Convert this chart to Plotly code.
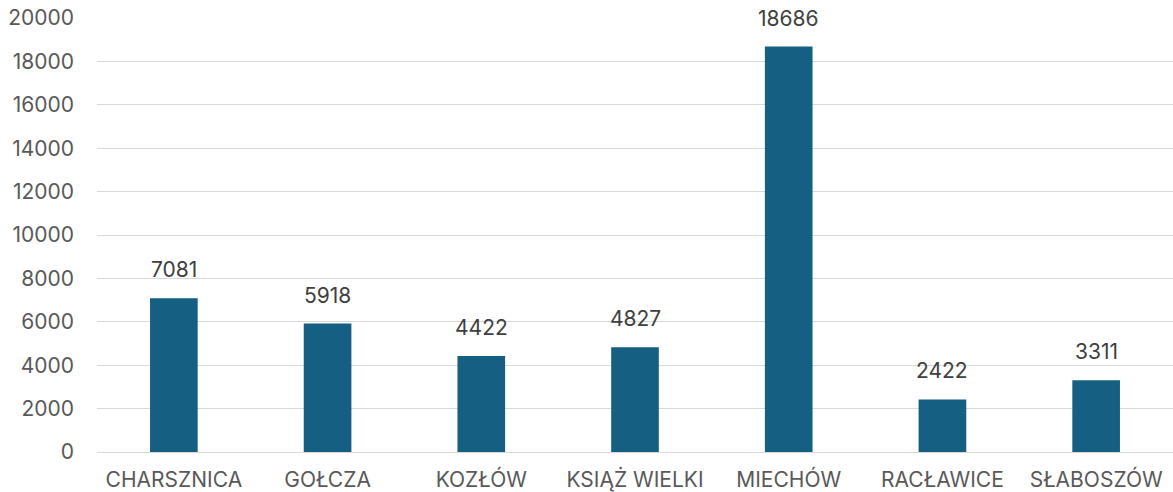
import plotly.graph_objects as go

categories = ["CHARSZNICA", "GOŁCZA", "KOZŁÓW", "KSIĄŻ WIELKI", "MIECHÓW", "RACŁAWICE", "SŁABOSZÓW"]
values = [7081, 5918, 4422, 4827, 18686, 2422, 3311]
y_ticks = [0, 2000, 4000, 6000, 8000, 10000, 12000, 14000, 16000, 18000, 20000]

font_family = "Inter, Liberation Sans, Arial, sans-serif"
text_color = "#595959"

fig = go.Figure(go.Bar(x=categories, y=values, marker=dict(color="#156082", line=dict(width=0)), width=0.31))

for c, v in zip(categories, values):
    fig.add_annotation(x=c, y=v, text=str(v), showarrow=False, yanchor="bottom", yshift=14,
                       font=dict(size=21, color="#404040", family=font_family))

fig.update_layout(
    width=1173, height=492,
    margin=dict(l=97, r=0, t=18, b=40),
    paper_bgcolor="white", plot_bgcolor="white",
    showlegend=False,
    font=dict(family=font_family, size=21, color=text_color),
)
fig.update_yaxes(range=[0, 20000], tickvals=y_ticks, ticktext=[str(t) for t in y_ticks],
                 showgrid=True, gridcolor="#d9d9d9", gridwidth=1.3, automargin=False,
                 zeroline=False, showline=False, ticks="", ticklabelstandoff=22,
                 tickfont=dict(size=21, color=text_color))
fig.update_xaxes(showline=True, linecolor="#d9d9d9", linewidth=1.3, ticks="", ticklabelstandoff=9,
                 automargin=False, tickfont=dict(size=21, color=text_color))

fig.write_html("out.html", config={"displayModeBar": False},
               post_script="document.body.style.margin='0px';document.body.style.overflow='hidden';")
